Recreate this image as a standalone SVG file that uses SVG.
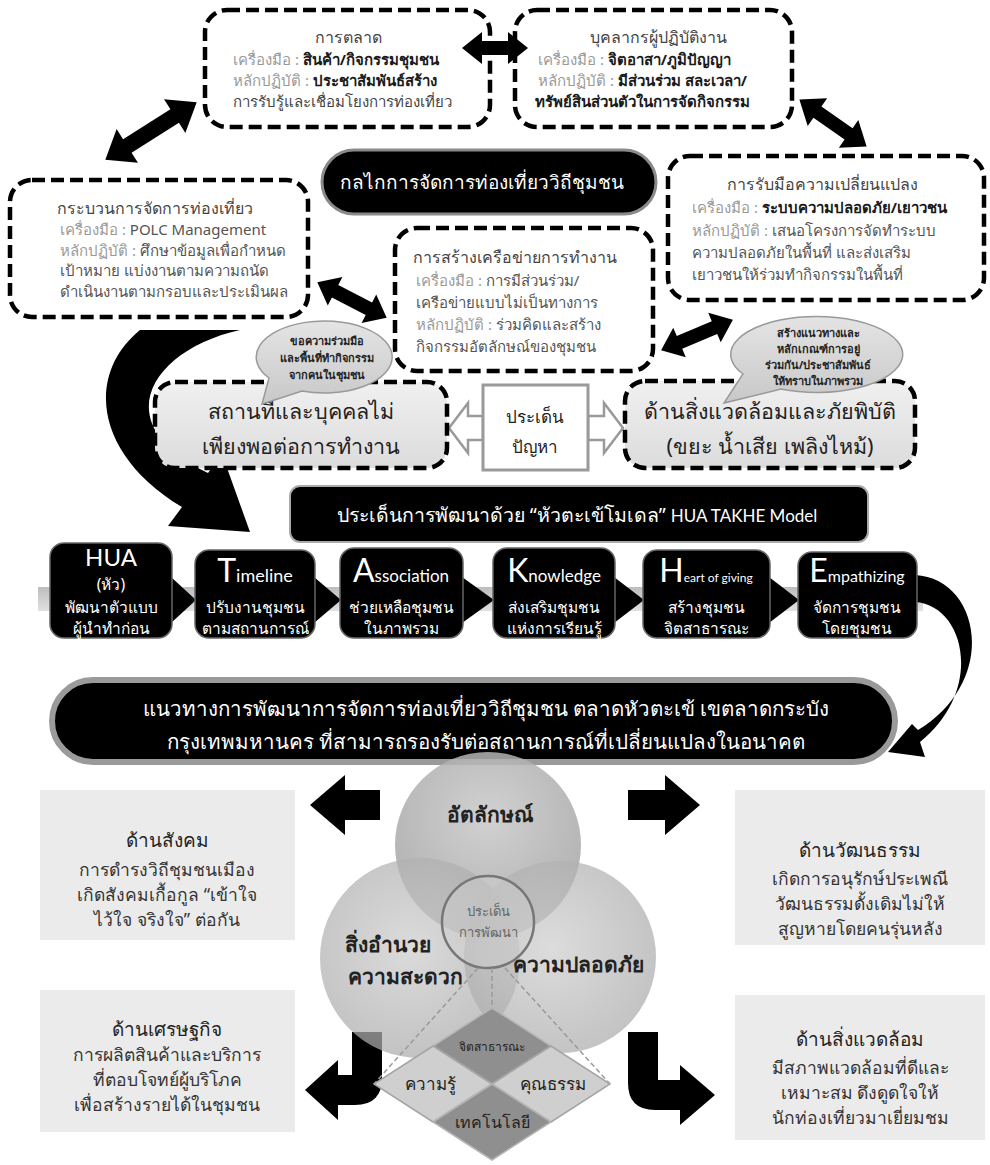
<svg xmlns="http://www.w3.org/2000/svg" width="990" height="1165" viewBox="0 0 990 1165">
<defs>
<style>
text{font-family:"Noto Sans","DejaVu Sans",sans-serif}
.box{fill:#fff;stroke:#000;stroke-width:4.5;stroke-dasharray:13 6}
.gbox{fill:url(#gg);stroke:#000;stroke-width:4.5;stroke-dasharray:13 6}
.tt{font-size:16px;fill:#444}
.ln{font-size:15px;fill:#444}
.lb{fill:#9a9a9a;font-weight:normal}
.cn{fill:#1a1a1a;font-weight:bold}
.cg{fill:#555}
.blk{fill:#000}
.tab{fill:#000;stroke:#666;stroke-width:1.5}
.tabt{fill:#fff;font-size:15.5px;text-anchor:middle}
.en{font-family:Lato,"Open Sans",sans-serif;fill:#fff}
.bub{fill:url(#bg);stroke:#999;stroke-width:1.5}
.bubt{font-size:11px;font-weight:bold;fill:#222;text-anchor:middle}
.sq{fill:#ebebeb}
.sqt{font-size:19px;fill:#222;text-anchor:middle}
.sql{font-size:17.5px;fill:#333;text-anchor:middle}
.hol{fill:#fff;stroke:#9a9a9a;stroke-width:2.5}
.dsh{stroke:#9a9a9a;stroke-width:1.5;stroke-dasharray:5 3;fill:none}
.vt{font-size:21px;font-weight:bold;fill:#222;text-anchor:middle}
</style>
<linearGradient id="gg" x1="0" y1="0" x2="0" y2="1"><stop offset="0" stop-color="#f0f0f0"/><stop offset="1" stop-color="#dcdcdc"/></linearGradient>
<linearGradient id="bg" x1="0" y1="0" x2="0" y2="1"><stop offset="0" stop-color="#e4e4e4"/><stop offset="1" stop-color="#c8c8c8"/></linearGradient>
<linearGradient id="band" x1="0" y1="0" x2="0" y2="1"><stop offset="0" stop-color="#bdbdbd"/><stop offset="1" stop-color="#e0e0e0"/></linearGradient>
<radialGradient id="c1" cx="0.5" cy="0.35" r="0.6"><stop offset="0" stop-color="#c9c9c9"/><stop offset="1" stop-color="#a5a5a5"/></radialGradient>
<radialGradient id="c2" cx="0.45" cy="0.45" r="0.6"><stop offset="0" stop-color="#cdcdcd"/><stop offset="1" stop-color="#a8a8a8"/></radialGradient>
</defs>
<rect width="990" height="1165" fill="#fff"/>

<g id="marketing">
<rect class="box" x="205" y="10" width="285" height="117" rx="22"/>
<text class="tt" x="348" y="43" text-anchor="middle">การตลาด</text>
<text class="ln" x="233" y="65"><tspan class="lb">เครื่องมือ : </tspan><tspan class="cn">สินค้า/กิจกรรมชุมชน</tspan></text>
<text class="ln" x="233" y="86"><tspan class="lb">หลักปฏิบัติ : </tspan><tspan class="cn">ประชาสัมพันธ์สร้าง</tspan></text>
<text class="ln" x="233" y="107">การรับรู้และเชื่อมโยงการท่องเที่ยว</text>
</g>

<g id="personnel">
<rect class="box" x="515" y="10" width="277" height="117" rx="22"/>
<text class="tt" x="658" y="43" text-anchor="middle">บุคลากรผู้ปฏิบัติงาน</text>
<text class="ln" x="538" y="65"><tspan class="lb">เครื่องมือ : </tspan><tspan class="cn">จิตอาสา/ภูมิปัญญา</tspan></text>
<text class="ln" x="538" y="86"><tspan class="lb">หลักปฏิบัติ : </tspan><tspan class="cn">มีส่วนร่วม สละเวลา/</tspan></text>
<text class="ln" x="535" y="107"><tspan class="cn">ทรัพย์สินส่วนตัวในการจัดกิจกรรม</tspan></text>
</g>

<g id="mechanism">
<rect x="322" y="150" width="334" height="64" rx="32" fill="#000" stroke="#8a8a8a" stroke-width="3"/>
<text x="482" y="189" font-size="19" fill="#fff" text-anchor="middle">กลไกการจัดการท่องเที่ยววิถีชุมชน</text>
</g>

<g id="process">
<rect class="box" x="10" y="180" width="298" height="137" rx="22"/>
<text class="tt" x="155" y="214" text-anchor="middle">กระบวนการจัดการท่องเที่ยว</text>
<text class="ln" x="60" y="235"><tspan class="lb">เครื่องมือ : </tspan><tspan class="cg">POLC Management</tspan></text>
<text class="ln" x="60" y="256"><tspan class="lb">หลักปฏิบัติ : </tspan><tspan class="cg">ศึกษาข้อมูลเพื่อกำหนด</tspan></text>
<text class="ln cg" x="60" y="276">เป้าหมาย แบ่งงานตามความถนัด</text>
<text class="ln cg" x="60" y="297">ดำเนินงานตามกรอบและประเมินผล</text>
</g>

<g id="change">
<rect class="box" x="668" y="156" width="316" height="144" rx="22"/>
<text class="tt" x="822" y="190" text-anchor="middle">การรับมือความเปลี่ยนแปลง</text>
<text class="ln" x="692" y="213"><tspan class="lb">เครื่องมือ : </tspan><tspan class="cn">ระบบความปลอดภัย/เยาวชน</tspan></text>
<text class="ln" x="692" y="236"><tspan class="lb">หลักปฏิบัติ : </tspan><tspan class="cg">เสนอโครงการจัดทำระบบ</tspan></text>
<text class="ln cg" x="692" y="258">ความปลอดภัยในพื้นที่ และส่งเสริม</text>
<text class="ln cg" x="692" y="280">เยาวชนให้ร่วมทำกิจกรรมในพื้นที่</text>
</g>

<g id="network">
<rect class="box" x="395" y="228" width="258" height="143" rx="22"/>
<text class="tt" x="515" y="263" text-anchor="middle">การสร้างเครือข่ายการทำงาน</text>
<text class="ln" x="416" y="286"><tspan class="lb">เครื่องมือ : </tspan><tspan class="cg">การมีส่วนร่วม/</tspan></text>
<text class="ln cg" x="416" y="308">เครือข่ายแบบไม่เป็นทางการ</text>
<text class="ln" x="416" y="330"><tspan class="lb">หลักปฏิบัติ : </tspan><tspan class="cg">ร่วมคิดและสร้าง</tspan></text>
<text class="ln cg" x="416" y="352">กิจกรรมอัตลักษณ์ของชุมชน</text>
</g>

<g id="band">
<rect x="38" y="587" width="885" height="24" fill="url(#band)"/>
</g>

<g id="connectors">
<path class="blk" transform="translate(468,48)" d="M-6,0 L14,-16 L14,-7 L40,-7 L40,-16 L60,0 L40,16 L40,7 L14,7 L14,16 Z"/>
<path class="blk" transform="translate(151,131) rotate(-32.2)" d="M-54,0 L-28,-20 L-28,-8 L28,-8 L28,-20 L54,0 L28,20 L28,8 L-28,8 L-28,20 Z"/>
<path class="blk" transform="translate(833,123) rotate(34.9)" d="M-41,0 L-19,-17 L-19,-7 L19,-7 L19,-17 L41,0 L19,17 L19,7 L-19,7 L-19,17 Z"/>
<path class="blk" transform="translate(352,300) rotate(27.2)" d="M-39,0 L-19,-16 L-19,-7 L19,-7 L19,-16 L39,0 L19,16 L19,7 L-19,7 L-19,16 Z"/>
<path class="blk" transform="translate(697,335) rotate(-23)" d="M-39,0 L-19,-16 L-19,-7 L19,-7 L19,-16 L39,0 L19,16 L19,7 L-19,7 L-19,16 Z"/>
<path class="blk" d="M140,330 L240,330 C150,350 105,425 208,473 L222,454 L250,532 L168,526 L182,507 C95,455 85,375 140,330 Z"/>
<polygon class="hol" points="449,428 468,403 468,416 483,416 483,440 468,440 468,453"/>
<polygon class="hol" points="588,416 604,416 604,403 623,428 604,453 604,440 588,440"/>
<polygon class="blk" points="171,577 196,600 171,623"/>
<polygon class="blk" points="314,577 341,600 314,623"/>
<polygon class="blk" points="462,577 494,600 462,623"/>
<polygon class="blk" points="614,577 644,600 614,623"/>
<polygon class="blk" points="769,577 799,600 769,623"/>
<path class="blk" d="M915,575 C980,578 1000,680 918,730 L912,724 L888,752 L925,757 L920,742 C985,690 965,605 915,602 Z"/>
<polygon class="blk" points="310,805 345,775 345,790 380,790 380,820 345,820 345,835"/>
<polygon class="blk" points="700,805 665,775 665,790 628,790 628,820 665,820 665,835"/>
<path class="blk" d="M352,1032 L382,1032 L382,1078 Q382,1105 355,1105 L338,1105 L338,1120 L305,1090 L338,1060 L338,1075 L352,1075 Z"/>
<path class="blk" d="M628,1032 L658,1032 L658,1080 L680,1080 L680,1065 L715,1095 L680,1125 L680,1110 L655,1110 Q628,1110 628,1083 Z"/>
</g>

<g id="place">
<rect class="gbox" x="155" y="382" width="292" height="86" rx="20"/>
<text x="301" y="419" font-size="21.5" fill="#222" text-anchor="middle">สถานที่และบุคคลไม่</text>
<text x="301" y="454" font-size="21.5" fill="#222" text-anchor="middle">เพียงพอต่อการทำงาน</text>
</g>

<g id="issue">
<rect x="483" y="385" width="105" height="85" fill="#fff" stroke="#9a9a9a" stroke-width="3"/>
<text x="535" y="423" font-size="17" fill="#222" text-anchor="middle">ประเด็น</text>
<text x="535" y="453" font-size="17" fill="#222" text-anchor="middle">ปัญหา</text>
</g>

<g id="environment">
<rect class="gbox" x="625" y="381" width="290" height="87" rx="20"/>
<text x="770" y="419" font-size="21.5" fill="#222" text-anchor="middle">ด้านสิ่งแวดล้อมและภัยพิบัติ</text>
<text x="770" y="454" font-size="21.5" fill="#222" text-anchor="middle">(ขยะ น้ำเสีย เพลิงไหม้)</text>
</g>

<g id="bubble-left">
<path class="bub" d="M302,391 A68,36 0 1 0 269,378 L262,404 Z"/>
<text class="bubt" x="327" y="345">ขอความร่วมมือ</text>
<text class="bubt" x="327" y="362">และพื้นที่ทำกิจกรรม</text>
<text class="bubt" x="327" y="379">จากคนในชุมชน</text>
</g>

<g id="bubble-right">
<path class="bub" d="M781,389 A86,38 0 1 0 743,374 L724,403 Z"/>
<text class="bubt" x="818" y="337">สร้างแนวทางและ</text>
<text class="bubt" x="818" y="353">หลักเกณฑ์การอยู่</text>
<text class="bubt" x="818" y="369">ร่วมกัน/ประชาสัมพันธ์</text>
<text class="bubt" x="818" y="385">ให้ทราบในภาพรวม</text>
</g>

<g id="model-title">
<rect x="290" y="486" width="578" height="56" rx="10" fill="#000" stroke="#aaa" stroke-width="2"/>
<text x="577" y="522" font-size="19.5" fill="#fff" text-anchor="middle">ประเด็นการพัฒนาด้วย “หัวตะเข้โมเดล” <tspan class="en" font-size="17">HUA TAKHE Model</tspan></text>
</g>

<g id="tab-hua">
<rect class="tab" x="50" y="543" width="122" height="95" rx="14"/>
<text class="en" x="111" y="566" font-size="24" text-anchor="middle">HUA</text>
<text class="tabt" x="111" y="590">(หัว)</text>
<text class="tabt" x="111" y="613">พัฒนาตัวแบบ</text>
<text class="tabt" x="111" y="634">ผู้นำทำก่อน</text>
</g>
<g id="tab-timeline">
<rect class="tab" x="195" y="550" width="120" height="88" rx="14"/>
<text class="en" x="255" y="582" font-size="18" text-anchor="middle"><tspan font-size="32">T</tspan>imeline</text>
<text class="tabt" x="255" y="613">ปรับงานชุมชน</text>
<text class="tabt" x="255" y="634">ตามสถานการณ์</text>
</g>
<g id="tab-association">
<rect class="tab" x="340" y="548" width="123" height="90" rx="14"/>
<text class="en" x="401" y="582" font-size="17" text-anchor="middle"><tspan font-size="32">A</tspan>ssociation</text>
<text class="tabt" x="401" y="613">ช่วยเหลือชุมชน</text>
<text class="tabt" x="401" y="634">ในภาพรวม</text>
</g>
<g id="tab-knowledge">
<rect class="tab" x="493" y="548" width="122" height="90" rx="14"/>
<text class="en" x="554" y="582" font-size="17" text-anchor="middle"><tspan font-size="32">K</tspan>nowledge</text>
<text class="tabt" x="554" y="613">ส่งเสริมชุมชน</text>
<text class="tabt" x="554" y="634">แห่งการเรียนรู้</text>
</g>
<g id="tab-heart">
<rect class="tab" x="643" y="550" width="127" height="88" rx="14"/>
<text class="en" x="706" y="582" font-size="12" text-anchor="middle"><tspan font-size="32">H</tspan>eart of giving</text>
<text class="tabt" x="706" y="613">สร้างชุมชน</text>
<text class="tabt" x="706" y="634">จิตสาธารณะ</text>
</g>
<g id="tab-empathizing">
<rect class="tab" x="798" y="552" width="119" height="86" rx="14"/>
<text class="en" x="857" y="582" font-size="16" text-anchor="middle"><tspan font-size="32">E</tspan>mpathizing</text>
<text class="tabt" x="857" y="613">จัดการชุมชน</text>
<text class="tabt" x="857" y="634">โดยชุมชน</text>
</g>

<g id="guideline">
<rect x="52" y="680" width="843" height="82" rx="41" fill="#000" stroke="#9a9a9a" stroke-width="6"/>
<text x="486" y="716" font-size="20.5" fill="#fff" text-anchor="middle">แนวทางการพัฒนาการจัดการท่องเที่ยววิถีชุมชน ตลาดหัวตะเข้ เขตลาดกระบัง</text>
<text x="486" y="749" font-size="20.5" fill="#fff" text-anchor="middle">กรุงเทพมหานคร ที่สามารถรองรับต่อสถานการณ์ที่เปลี่ยนแปลงในอนาคต</text>
</g>

<g id="social">
<rect class="sq" x="40" y="790" width="255" height="150"/>
<text class="sqt" x="167" y="847">ด้านสังคม</text>
<text class="sql" x="167" y="876">การดำรงวิถีชุมชนเมือง</text>
<text class="sql" x="167" y="901">เกิดสังคมเกื้อกูล “เข้าใจ</text>
<text class="sql" x="167" y="926">ไว้ใจ จริงใจ” ต่อกัน</text>
</g>
<g id="culture">
<rect class="sq" x="735" y="790" width="250" height="155"/>
<text class="sqt" x="860" y="857">ด้านวัฒนธรรม</text>
<text class="sql" x="860" y="885">เกิดการอนุรักษ์ประเพณี</text>
<text class="sql" x="860" y="910">วัฒนธรรมดั้งเดิมไม่ให้</text>
<text class="sql" x="860" y="935">สูญหายโดยคนรุ่นหลัง</text>
</g>
<g id="economy">
<rect class="sq" x="40" y="990" width="255" height="142"/>
<text class="sqt" x="167" y="1036">ด้านเศรษฐกิจ</text>
<text class="sql" x="167" y="1061">การผลิตสินค้าและบริการ</text>
<text class="sql" x="167" y="1086">ที่ตอบโจทย์ผู้บริโภค</text>
<text class="sql" x="167" y="1111">เพื่อสร้างรายได้ในชุมชน</text>
</g>
<g id="env2">
<rect class="sq" x="735" y="995" width="250" height="145"/>
<text class="sqt" x="860" y="1046">ด้านสิ่งแวดล้อม</text>
<text class="sql" x="860" y="1074">มีสภาพแวดล้อมที่ดีและ</text>
<text class="sql" x="860" y="1099">เหมาะสม ดึงดูดใจให้</text>
<text class="sql" x="860" y="1124">นักท่องเที่ยวมาเยี่ยมชม</text>
</g>

<g id="venn">
<circle cx="488" cy="845" r="93" fill="url(#c1)" opacity="0.85"/>
<circle cx="420" cy="958" r="100" fill="url(#c2)" opacity="0.72"/>
<circle cx="560" cy="957" r="96" fill="url(#c2)" opacity="0.7"/>
<circle cx="488" cy="922" r="46" fill="#d0d0d0" fill-opacity="0.45" stroke="#777" stroke-width="2.5"/>
<text class="vt" x="490" y="822">อัตลักษณ์</text>
<text class="vt" x="388" y="952">สิ่งอำนวย</text>
<text class="vt" x="405" y="984">ความสะดวก</text>
<text class="vt" x="578" y="972" font-size="22.5">ความปลอดภัย</text>
<text x="488" y="916" font-size="13" fill="#666" text-anchor="middle">ประเด็น</text>
<text x="488" y="937" font-size="13" fill="#666" text-anchor="middle">การพัฒนา</text>
</g>

<g id="diamond">
<line class="dsh" x1="478" y1="968" x2="374" y2="1084"/>
<line class="dsh" x1="492" y1="968" x2="492" y2="1008"/>
<line class="dsh" x1="505" y1="968" x2="610" y2="1084"/>
<polygon points="492,1008 551,1046 492,1084 433,1046" fill="#8f8f8f" stroke="#b5b5b5" stroke-width="1.5"/>
<polygon points="433,1046 492,1084 433,1122 374,1084" fill="#cfcfcf" stroke="#a5a5a5" stroke-width="1.5"/>
<polygon points="551,1046 610,1084 551,1122 492,1084" fill="#cfcfcf" stroke="#a5a5a5" stroke-width="1.5"/>
<polygon points="492,1084 551,1122 492,1160 433,1122" fill="#8f8f8f" stroke="#b5b5b5" stroke-width="1.5"/>
<text x="492" y="1051" font-size="12" fill="#222" text-anchor="middle">จิตสาธารณะ</text>
<text x="430" y="1090" font-size="17" fill="#222" text-anchor="middle">ความรู้</text>
<text x="553" y="1090" font-size="17" fill="#222" text-anchor="middle">คุณธรรม</text>
<text x="492" y="1128" font-size="16" fill="#222" text-anchor="middle">เทคโนโลยี</text>
</g>
</svg>
